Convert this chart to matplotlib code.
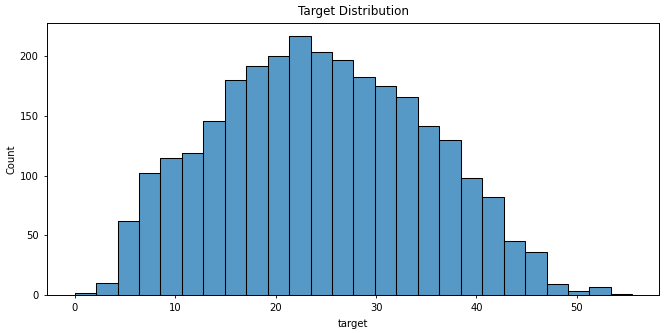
import matplotlib
matplotlib.use("Agg")
import matplotlib.pyplot as plt
import numpy as np

bin_start = 0.0
bin_width = 2.135
counts = [2, 10, 62, 102, 115, 119, 146, 180, 192, 200, 217, 203, 197,
          182, 175, 166, 141, 130, 98, 82, 45, 36, 9, 3, 7, 1]
edges = bin_start + bin_width * np.arange(len(counts) + 1)
centers = (edges[:-1] + edges[1:]) / 2

plt.rcParams['font.family'] = ['DejaVu Sans']
fig = plt.figure(figsize=(6.68, 3.33), dpi=100)
ax = fig.add_axes([0.070, 0.114, 0.917, 0.817])
ax.hist(centers, bins=edges, weights=counts, color='#1f77b4', alpha=0.75,
        linewidth=0)
ax.hist(centers, bins=edges, weights=counts, histtype='bar', facecolor='none',
        edgecolor='black', linewidth=0.75)
ax.set_xlim(-2.78, 58.2)
ax.set_ylim(0, 227.6)
ax.set_xticks([0, 10, 20, 30, 40, 50])
ax.set_yticks([0, 50, 100, 150, 200])
ax.tick_params(labelsize=7.2, length=2.5, width=0.6)
ax.set_xlabel('target', fontsize=7.2)
ax.set_ylabel('Count', fontsize=7.2, labelpad=2)
ax.set_title('Target Distribution', fontsize=8.6)
for s in ax.spines.values():
    s.set_linewidth(0.7)
fig.savefig('out.png', dpi=100)
